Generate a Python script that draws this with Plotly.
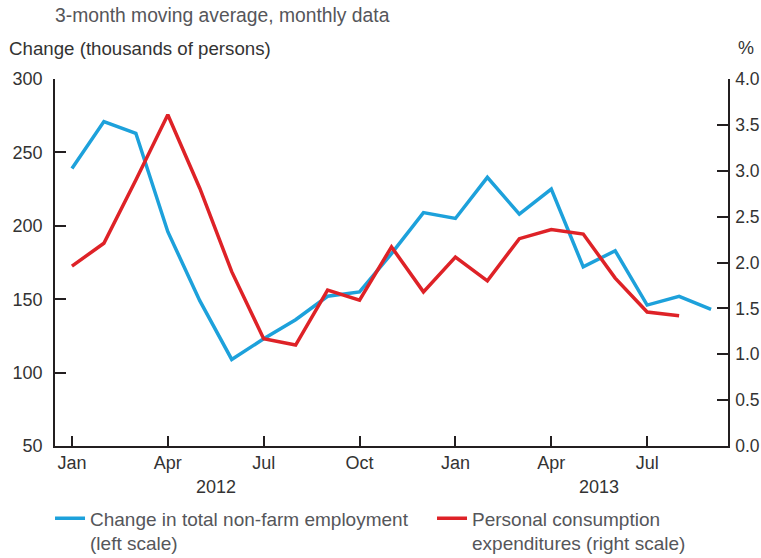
import plotly.graph_objects as go

months = ["Jan 2012", "Feb 2012", "Mar 2012", "Apr 2012", "May 2012", "Jun 2012",
          "Jul 2012", "Aug 2012", "Sep 2012", "Oct 2012", "Nov 2012", "Dec 2012",
          "Jan 2013", "Feb 2013", "Mar 2013", "Apr 2013", "May 2013", "Jun 2013",
          "Jul 2013", "Aug 2013", "Sep 2013"]
employment = [239, 271, 263, 196, 149, 109, 123, 136, 152, 155, 181, 209,
              205, 233, 208, 225, 172, 183, 146, 152, 143]
pce = [1.96, 2.21, 2.90, 3.61, 2.81, 1.90, 1.17, 1.10, 1.70, 1.59, 2.17, 1.68,
       2.06, 1.80, 2.26, 2.36, 2.31, 1.83, 1.46, 1.42]
tick_months = ["Jan 2012", "Apr 2012", "Jul 2012", "Oct 2012",
               "Jan 2013", "Apr 2013", "Jul 2013"]
tick_text = ["Jan", "Apr", "Jul", "Oct", "Jan", "Apr", "Jul"]
year_labels = ["2012", "2013"]
year_pos = [4.5, 16.5]

BLUE = "#1DA1DB"
RED = "#DE2227"
AX = "#231F20"
TXT = "#333333"
GREY = "#55565A"
FONT = "Liberation Sans, Arial, sans-serif"
FS = 18

fig = go.Figure()
fig.add_trace(go.Scatter(x=months, y=employment, mode="lines",
                         name="Change in total non-farm employment<br>(left scale)",
                         line=dict(color=BLUE, width=3.5), legend="legend"))
fig.add_trace(go.Scatter(x=months[:len(pce)], y=pce, mode="lines", yaxis="y2",
                         name="Personal consumption<br>expenditures (right scale)",
                         line=dict(color=RED, width=3.5), legend="legend2"))

leg_common = dict(orientation="v", yref="container", y=0.105, yanchor="top",
                  xanchor="left", valign="top", itemwidth=30,
                  font=dict(size=19, color=GREY), bgcolor="rgba(0,0,0,0)")

fig.update_layout(
    width=761, height=558,
    margin=dict(l=55, r=33, t=79, b=112),
    plot_bgcolor="white", paper_bgcolor="white",
    font=dict(family=FONT, size=FS, color=TXT),
    xaxis=dict(type="category", categoryorder="array", categoryarray=months,
               range=[-0.53, 20.53], tickmode="array", tickvals=tick_months,
               ticktext=tick_text, ticks="inside", ticklen=10, tickwidth=1.5,
               tickcolor=AX, showline=True, linecolor=AX, linewidth=1.5,
               showgrid=False, zeroline=False, automargin=False),
    yaxis=dict(range=[50, 300], tickvals=[50, 100, 150, 200, 250, 300],
               ticks="inside", ticklen=11, tickwidth=1.5, tickcolor=AX,
               showline=True, linecolor=AX, linewidth=1.5, showgrid=False,
               zeroline=False, ticklabelstandoff=7, automargin=False),
    yaxis2=dict(range=[0, 4], overlaying="y", side="right",
                tickvals=[0, 0.5, 1, 1.5, 2, 2.5, 3, 3.5, 4],
                tickformat=".1f", ticks="inside", ticklen=11, tickwidth=1.5,
                tickcolor=AX, showline=True, linecolor=AX, linewidth=1.5,
                showgrid=False, zeroline=False, ticklabelstandoff=2,
                tickfont=dict(size=17.5), automargin=False),
    legend=dict(x=-0.0074, **leg_common),
    legend2=dict(x=0.5602, **leg_common),
    showlegend=True,
)

for lab, pos in zip(year_labels, year_pos):
    fig.add_annotation(x=pos, y=0, xref="x", yref="paper", text=lab,
                       showarrow=False, yanchor="middle", yshift=-41,
                       font=dict(size=FS, color=TXT))

fig.add_annotation(x=0, y=1, xref="paper", yref="paper",
                   text="3-month moving average, monthly data", showarrow=False,
                   xanchor="left", yanchor="middle", yshift=64, xshift=-2,
                   font=dict(size=19.3, color=GREY))
fig.add_annotation(x=0, y=1, xref="paper", yref="paper",
                   text="Change (thousands of persons)", showarrow=False,
                   xanchor="left", yanchor="middle", yshift=31, xshift=-48,
                   font=dict(size=18.7, color=TXT))
fig.add_annotation(x=1, y=1, xref="paper", yref="paper", text="%",
                   showarrow=False, xanchor="left", yanchor="middle",
                   yshift=31, xshift=8, font=dict(size=FS, color=TXT))

fig.write_html("out.html", config={"displayModeBar": False},
               post_script="document.body.style.margin='0';"
                           "document.body.style.overflow='hidden';")
